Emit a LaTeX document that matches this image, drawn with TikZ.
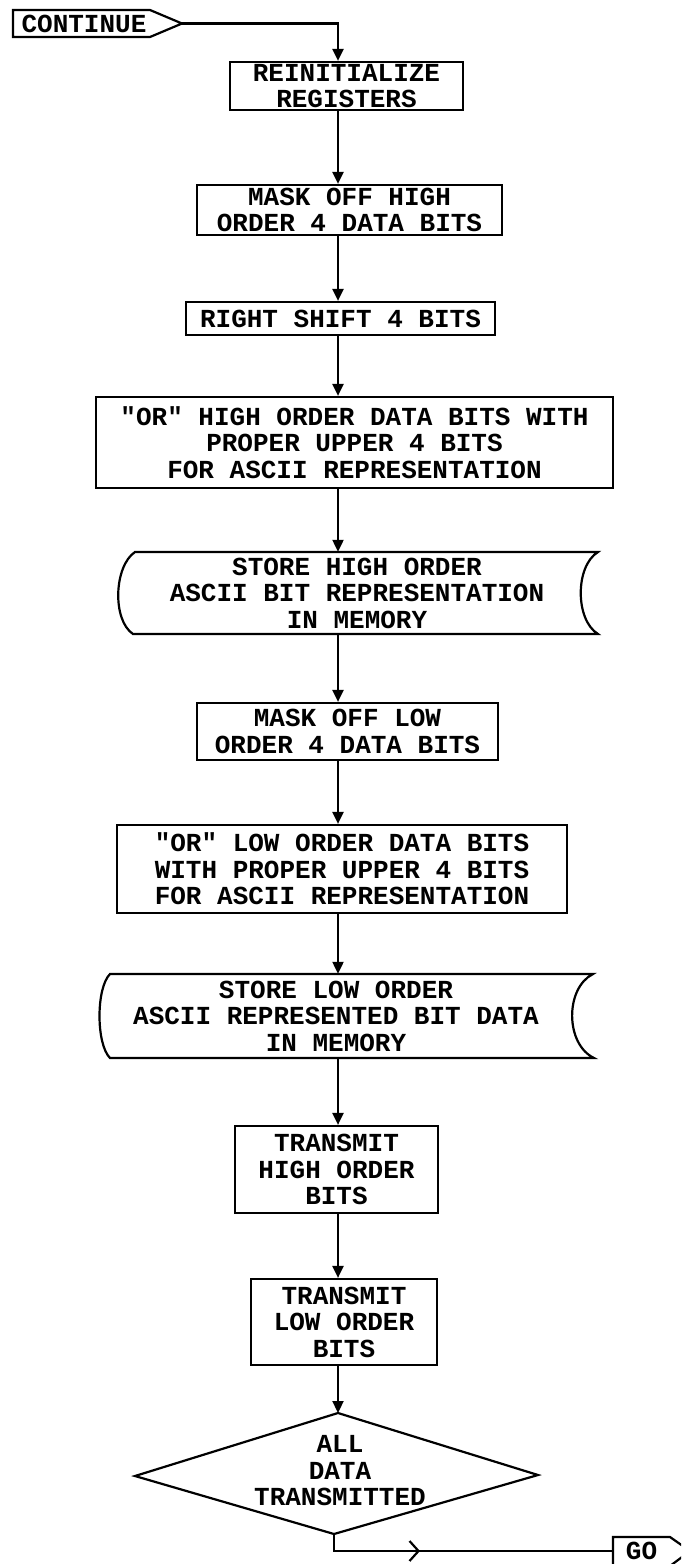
\documentclass[tikz,border=0pt]{standalone}
\usepackage{fontspec}
\setmonofont{Liberation Mono}[FakeStretch=1.0]
\usetikzlibrary{arrows.meta,calc}
\newcommand\flowfont{\fontsize{26}{26.5}\selectfont\ttfamily\bfseries}
\tikzset{
  box/.style={draw, line width=2.2pt, inner sep=0pt, align=center, font=\flowfont},
  plain/.style={draw=none, inner sep=0pt, align=center, font=\flowfont},
  ln/.style={line width=2.2pt},
  arr/.style={line width=2.2pt, -{Triangle[length=12pt,width=11pt]}},
  chev/.style={line width=2.2pt, -{Straight Barb[length=9pt,width=20pt,line width=2.2pt]}},
}
\begin{document}
\begin{tikzpicture}[x=1pt,y=-1pt]
\useasboundingbox (0,0) rectangle (681,1564);
\clip (0,0) rectangle (681,1564);
\coordinate (ax) at (338,0);

% CONTINUE terminal
\draw[ln] (13,10) -- (150,10) -- (182,23.5) -- (150,37) -- (13,37) -- cycle;
\node[plain] (cont) at (84,24) {CONTINUE};
\coordinate (conttip) at (182,23.5);

% process boxes
\node[box, minimum width=233, minimum height=48] (reinit) at (346.5,86) {REINITIALIZE\\REGISTERS};
\node[box, minimum width=305, minimum height=50] (maskhi) at (349.5,210) {MASK OFF HIGH\\ORDER 4 DATA BITS};
\node[box, minimum width=309, minimum height=33] (rshift) at (340.5,318.5) {RIGHT SHIFT 4 BITS};
\node[box, minimum width=517, minimum height=91] (orhi) at (354.5,442.5) {"OR" HIGH ORDER DATA BITS WITH\\PROPER UPPER 4 BITS\\FOR ASCII REPRESENTATION};

% stored data (high)
\draw[ln] (135,552) -- (598,552) .. controls (575,566) and (575,620) .. (598,634)
  -- (133,634) .. controls (112,620) and (114,566) .. (135,552) -- cycle;
\node[plain, minimum width=440, minimum height=82] (storehi) at (357,593) {STORE HIGH ORDER\\ASCII BIT REPRESENTATION\\IN MEMORY};

\node[box, minimum width=301, minimum height=57] (masklo) at (347.5,731.5) {MASK OFF LOW\\ORDER 4 DATA BITS};
\node[box, minimum width=450, minimum height=88] (orlo) at (342,869) {"OR" LOW ORDER DATA BITS\\WITH PROPER UPPER 4 BITS\\FOR ASCII REPRESENTATION};

% stored data (low)
\draw[ln] (110,974) -- (593,974) .. controls (565,988) and (565,1044) .. (594,1058)
  -- (110,1058) .. controls (96,1044) and (96,988) .. (110,974) -- cycle;
\node[plain, minimum width=440, minimum height=84] (storelo) at (336,1016) {STORE LOW ORDER\\ASCII REPRESENTED BIT DATA\\IN MEMORY};

\node[box, minimum width=203, minimum height=87] (txhi) at (336.5,1169.5) {TRANSMIT\\HIGH ORDER\\BITS};
\node[box, minimum width=186, minimum height=86] (txlo) at (344,1322) {TRANSMIT\\LOW ORDER\\BITS};

% decision
\coordinate (dtop) at (338,1413);
\coordinate (dright) at (538,1475);
\coordinate (dbot) at (334,1534);
\coordinate (dleft) at (135,1476);
\draw[ln] (dtop) -- (dright) -- (dbot) -- (dleft) -- cycle;
\node[plain] (dec) at (340,1471) {ALL\\DATA\\TRANSMITTED};

% GO terminal
\draw[ln] (613,1537) -- (670,1537) -- (690,1551) -- (670,1566) -- (613,1566) -- cycle;
\node[plain, minimum width=57, minimum height=28] (go) at (641.5,1551) {GO};
\coordinate (chev) at (420,1551);

% connectors
\draw[arr] (conttip) -| (reinit.north -| ax);
\draw[arr] (reinit.south -| ax) -- (maskhi.north -| ax);
\draw[arr] (maskhi.south -| ax) -- (rshift.north -| ax);
\draw[arr] (rshift.south -| ax) -- (orhi.north -| ax);
\draw[arr] (orhi.south -| ax) -- (storehi.north -| ax);
\draw[arr] (storehi.south -| ax) -- (masklo.north -| ax);
\draw[arr] (masklo.south -| ax) -- (orlo.north -| ax);
\draw[arr] (orlo.south -| ax) -- (storelo.north -| ax);
\draw[arr] (storelo.south -| ax) -- (txhi.north -| ax);
\draw[arr] (txhi.south -| ax) -- (txlo.north -| ax);
\draw[arr] (txlo.south -| dtop) -- (dtop);
\draw[ln] (dbot) |- (go.west);
\draw[chev] (go.west -| dbot) -- (chev);
\end{tikzpicture}
\end{document}
